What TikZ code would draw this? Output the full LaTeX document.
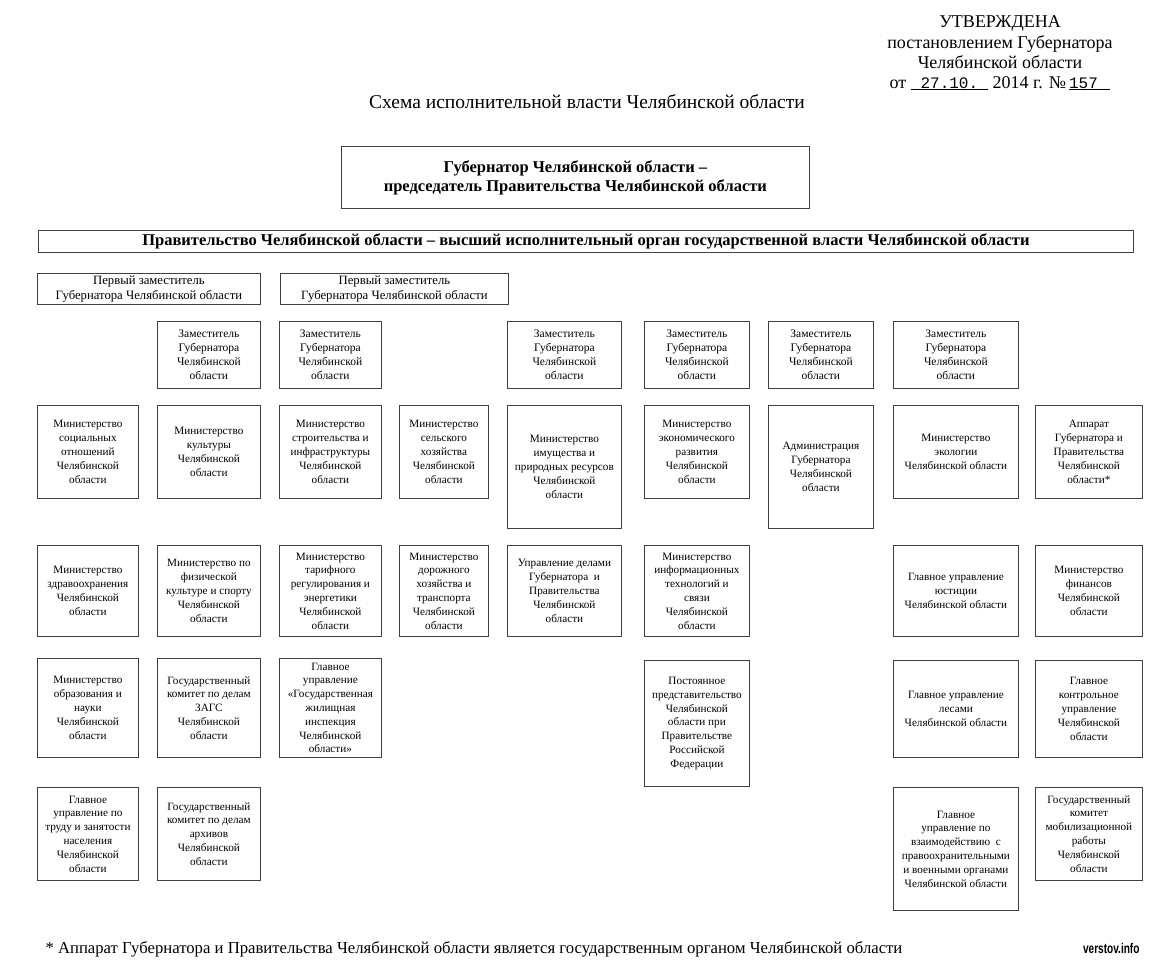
\documentclass[tikz,border=0pt]{standalone}
\usepackage{fontspec}
\setmainfont{Liberation Serif}
\newfontfamily\monofnt{Liberation Mono}
\newfontfamily\wmfont{Liberation Sans}[FakeStretch=0.72]
\newcommand\bx[7][]{\node[box,#1,anchor=north west,minimum width={(#5)-(#3)},minimum height={(#6)-(#4)}] (#2) at (#3,#4) {#7};}
\begin{document}
\begin{tikzpicture}[x=1pt,y=-1pt,
  box/.style={draw=black!75, line width=0.8pt, align=center, inner sep=1pt, font=\fontsize{11.2}{13.8}\selectfont},
  zam/.style={font=\fontsize{11.5}{14.2}\selectfont},
  first/.style={font=\fontsize{12.7}{14.5}\selectfont},
  head/.style={font=\fontsize{18}{21}\selectfont, anchor=base},
  boldbox/.style={font=\bfseries\fontsize{16.5}{19}\selectfont}]
\useasboundingbox (0,0) rectangle (1151,962);
% approval block
\node[head] (ap1) at (1000,27) {УТВЕРЖДЕНА};
\node[head] (ap2) at (1000,48) {постановлением Губернатора};
\node[head] (ap3) at (1000,68) {Челябинской области};
\node[head] (ap4) at (1000,88) {от \underline{\makebox[4.3em]{\monofnt\fontsize{16}{18}\selectfont 27.10.}} 2014 г. №\,\underline{\makebox[2.3em][l]{\monofnt\fontsize{16}{18}\selectfont 157}}};
\node[head, font=\fontsize{19.5}{22}\selectfont] (title) at (587,108) {Схема исполнительной власти Челябинской области};
% top
\bx[boldbox]{gov}{341}{146}{809}{208}{Губернатор Челябинской области –\\председатель Правительства Челябинской области}
\bx[boldbox]{govt}{38}{230}{1133}{252}{Правительство Челябинской области – высший исполнительный орган государственной власти Челябинской области}
\bx[first]{fa}{37}{273}{260}{304}{Первый заместитель\\Губернатора Челябинской области}
\bx[first]{fb}{280}{273}{508}{304}{Первый заместитель\\Губернатора Челябинской области}
% deputies
\bx[zam]{z2}{157}{321}{260}{388}{Заместитель\\Губернатора\\Челябинской\\области}
\bx[zam]{z3}{279}{321}{381}{388}{Заместитель\\Губернатора\\Челябинской\\области}
\bx[zam]{z5}{507}{321}{621}{388}{Заместитель\\Губернатора\\Челябинской\\области}
\bx[zam]{z6}{644}{321}{749}{388}{Заместитель\\Губернатора\\Челябинской\\области}
\bx[zam]{z7}{768}{321}{873}{388}{Заместитель\\Губернатора\\Челябинской\\области}
\bx[zam]{z8}{893}{321}{1018}{388}{Заместитель\\Губернатора\\Челябинской\\области}
% row 1
\bx{m11}{37}{405}{138}{498}{Министерство\\социальных\\отношений\\Челябинской\\области}
\bx{m12}{157}{405}{260}{498}{Министерство\\культуры\\Челябинской\\области}
\bx{m13}{279}{405}{381}{498}{Министерство\\строительства и\\инфраструктуры\\Челябинской\\области}
\bx{m14}{399}{405}{488}{498}{Министерство\\сельского\\хозяйства\\Челябинской\\области}
\bx{m15}{507}{405}{621}{528}{Министерство\\имущества и\\природных ресурсов\\Челябинской\\области}
\bx{m16}{644}{405}{749}{498}{Министерство\\экономического\\развития\\Челябинской\\области}
\bx{m17}{768}{405}{873}{528}{Администрация\\Губернатора\\Челябинской\\области}
\bx{m18}{893}{405}{1018}{498}{Министерство\\экологии\\Челябинской области}
\bx{m19}{1035}{405}{1142}{498}{Аппарат\\Губернатора и\\Правительства\\Челябинской\\области*}
% row 2
\bx{m21}{37}{545}{138}{636}{Министерство\\здравоохранения\\Челябинской\\области}
\bx{m22}{157}{545}{260}{636}{Министерство по\\физической\\культуре и спорту\\Челябинской\\области}
\bx{m23}{279}{545}{381}{636}{Министерство\\тарифного\\регулирования и\\энергетики\\Челябинской\\области}
\bx{m24}{399}{545}{488}{636}{Министерство\\дорожного\\хозяйства и\\транспорта\\Челябинской\\области}
\bx{m25}{507}{545}{621}{636}{Управление делами\\Губернатора \ и\\Правительства\\Челябинской\\области}
\bx{m26}{644}{545}{749}{636}{Министерство\\информационных\\технологий и\\связи\\Челябинской\\области}
\bx{m28}{893}{545}{1018}{636}{Главное управление\\юстиции\\Челябинской области}
\bx{m29}{1035}{545}{1142}{636}{Министерство\\финансов\\Челябинской\\области}
% row 3
\bx{m31}{37}{658}{138}{757}{Министерство\\образования и\\науки\\Челябинской\\области}
\bx{m32}{157}{658}{260}{757}{Государственный\\комитет по делам\\ЗАГС\\Челябинской\\области}
\bx{m33}{279}{658}{381}{757}{Главное\\управление\\«Государственная\\жилищная\\инспекция\\Челябинской\\области»}
\bx{m36}{644}{660}{749}{786}{Постоянное\\представительство\\Челябинской\\области при\\Правительстве\\Российской\\Федерации}
\bx{m38}{893}{660}{1018}{757}{Главное управление\\лесами\\Челябинской области}
\bx{m39}{1035}{660}{1142}{757}{Главное\\контрольное\\управление\\Челябинской\\области}
% row 4
\bx{m41}{37}{787}{138}{880}{Главное\\управление по\\труду и занятости\\населения\\Челябинской\\области}
\bx{m42}{157}{787}{260}{880}{Государственный\\комитет по делам\\архивов\\Челябинской\\области}
\bx{m48}{893}{787}{1018}{910}{Главное\\управление по\\взаимодействию \ с\\правоохранительными\\и военными органами\\Челябинской области}
\bx{m49}{1035}{787}{1142}{880}{Государственный\\комитет\\мобилизационной\\работы\\Челябинской\\области}
% footnote
\node[font=\fontsize{16.7}{19}\selectfont, anchor=base west] (foot) at (42,953) {* Аппарат Губернатора и Правительства Челябинской области является государственным органом Челябинской области};
\node[font=\wmfont\bfseries\fontsize{14}{16}\selectfont, anchor=base east] (wm) at (1143,953) {verstov.info};
\end{tikzpicture}
\end{document}
